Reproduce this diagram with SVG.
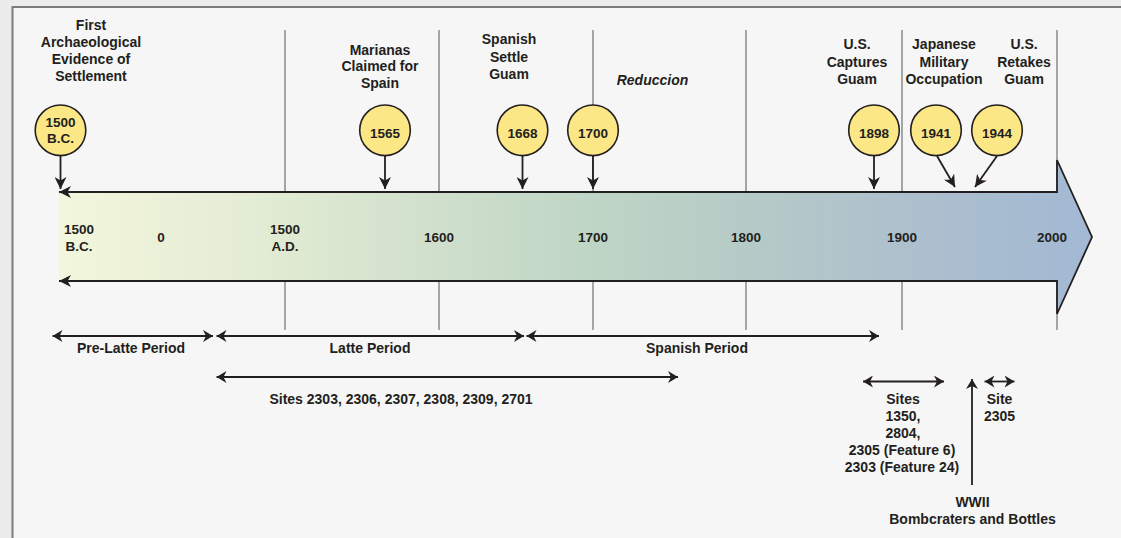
<svg xmlns="http://www.w3.org/2000/svg" width="1121" height="538" viewBox="0 0 1121 538">
<defs>
<style>
.t{font-family:"Liberation Sans",Arial,Helvetica,sans-serif;font-weight:bold;font-size:14px;fill:#231f20;text-anchor:middle}
.n{font-size:13.5px}
.it{font-style:italic}
.grid{stroke:#8a8a8a;stroke-width:1.5;fill:none}
.ln{stroke:#231f20;stroke-width:1.8;fill:none}
.yr{fill:#fbe785;stroke:#231f20;stroke-width:1.6}
</style>
<linearGradient id="g" gradientUnits="userSpaceOnUse" x1="59" y1="0" x2="1092" y2="0">
<stop offset="0" stop-color="#f2f6dd"/>
<stop offset="0.1" stop-color="#ebf1d8"/>
<stop offset="0.22" stop-color="#e0ead2"/>
<stop offset="0.37" stop-color="#cfdfcc"/>
<stop offset="0.52" stop-color="#bed5c5"/>
<stop offset="0.66" stop-color="#b6cbc7"/>
<stop offset="0.82" stop-color="#adc0cd"/>
<stop offset="1" stop-color="#a3b8d3"/>
</linearGradient>
<marker id="ah" viewBox="0 0 12 12" refX="12" refY="6" markerWidth="12" markerHeight="12" markerUnits="userSpaceOnUse" orient="auto-start-reverse">
<path d="M0,0 L12,6 L0,12 L3.5,6 z" fill="#231f20"/>
</marker>
<marker id="ah2" viewBox="0 0 10 12" refX="10" refY="6" markerWidth="10" markerHeight="12" markerUnits="userSpaceOnUse" orient="auto-start-reverse">
<path d="M0,0 L10,6 L0,12 L3,6 z" fill="#231f20"/>
</marker>
</defs>

<rect x="0" y="0" width="1121" height="538" fill="#ececec"/>
<rect x="12.5" y="7" width="1200" height="600" fill="#f6f6f6" stroke="#7c7c7c" stroke-width="2"/>

<g id="grid">
<line class="grid" x1="285" y1="30" x2="285" y2="330"/>
<line class="grid" x1="439" y1="30" x2="439" y2="330"/>
<line class="grid" x1="593" y1="30" x2="593" y2="330"/>
<line class="grid" x1="746" y1="30" x2="746" y2="330"/>
<line class="grid" x1="902" y1="30" x2="902" y2="330"/>
<line class="grid" x1="1057" y1="30" x2="1057" y2="330"/>
</g>

<g id="timeline-arrow">
<path d="M59,192 L1057,192 L1057,160 L1092,237 L1057,314 L1057,281 L59,281 Z" fill="url(#g)"/>
<polyline class="ln" points="59,192 1057,192 1057,160 1092,237 1057,314 1057,281 59,281" stroke-width="2" stroke-linejoin="miter" marker-start="url(#ah)" marker-end="url(#ah)"/>
<text class="t n" x="79" y="234">1500</text>
<text class="t n" x="79" y="251">B.C.</text>
<text class="t n" x="161" y="242">0</text>
<text class="t n" x="285" y="234">1500</text>
<text class="t n" x="285" y="251">A.D.</text>
<text class="t n" x="439" y="242">1600</text>
<text class="t n" x="593" y="242">1700</text>
<text class="t n" x="746" y="242">1800</text>
<text class="t n" x="902" y="242">1900</text>
<text class="t n" x="1052" y="242">2000</text>
</g>

<g id="connectors">
<line class="ln" x1="60.5" y1="156" x2="60.5" y2="189" marker-end="url(#ah)"/>
<line class="ln" x1="385" y1="156" x2="385" y2="189" marker-end="url(#ah)"/>
<line class="ln" x1="522.5" y1="156" x2="522.5" y2="189" marker-end="url(#ah)"/>
<line class="ln" x1="593" y1="156" x2="593" y2="189" marker-end="url(#ah)"/>
<line class="ln" x1="874" y1="156" x2="874" y2="189" marker-end="url(#ah)"/>
<line class="ln" x1="937" y1="156" x2="955" y2="187" marker-end="url(#ah)"/>
<line class="ln" x1="997" y1="156" x2="975" y2="187" marker-end="url(#ah)"/>
<line class="ln" x1="52.5" y1="336" x2="213" y2="336" marker-start="url(#ah2)" marker-end="url(#ah2)"/>
<line class="ln" x1="216.5" y1="336" x2="524" y2="336" marker-start="url(#ah2)" marker-end="url(#ah2)"/>
<line class="ln" x1="526.5" y1="336" x2="879" y2="336" marker-start="url(#ah2)" marker-end="url(#ah2)"/>
<line class="ln" x1="216.5" y1="377" x2="678" y2="377" marker-start="url(#ah2)" marker-end="url(#ah2)"/>
<line class="ln" x1="863" y1="381.5" x2="944" y2="381.5" marker-start="url(#ah2)" marker-end="url(#ah2)"/>
<line class="ln" x1="984.5" y1="381.5" x2="1014.5" y2="381.5" marker-start="url(#ah2)" marker-end="url(#ah2)"/>
<line class="ln" x1="972" y1="485" x2="972" y2="379" marker-end="url(#ah2)"/>
</g>

<g id="ev-1500bc">
<text class="t" x="91" y="29.5">First</text>
<text class="t" x="91" y="46.5">Archaeological</text>
<text class="t" x="91" y="63.5">Evidence of</text>
<text class="t" x="91" y="80.5">Settlement</text>
<circle class="yr" cx="60.5" cy="130.3" r="25.3"/>
<text class="t n" x="60.5" y="126.5">1500</text>
<text class="t n" x="60.5" y="143.3">B.C.</text>
</g>

<g id="ev-1565">
<text class="t" x="380" y="54.5">Marianas</text>
<text class="t" x="380" y="71.3">Claimed for</text>
<text class="t" x="380" y="88">Spain</text>
<circle class="yr" cx="385" cy="130.3" r="25.3"/>
<text class="t n" x="385" y="137.5">1565</text>
</g>

<g id="ev-1668">
<text class="t" x="509" y="44">Spanish</text>
<text class="t" x="509" y="61.5">Settle</text>
<text class="t" x="509" y="79">Guam</text>
<circle class="yr" cx="522.5" cy="130.3" r="25.3"/>
<text class="t n" x="522.5" y="137.5">1668</text>
</g>

<g id="ev-1700">
<text class="t it" x="652.5" y="85">Reduccion</text>
<circle class="yr" cx="593" cy="130.3" r="25.3"/>
<text class="t n" x="593" y="137.5">1700</text>
</g>

<g id="ev-1898">
<text class="t" x="857" y="49">U.S.</text>
<text class="t" x="857" y="66.5">Captures</text>
<text class="t" x="857" y="84">Guam</text>
<circle class="yr" cx="874" cy="130.3" r="25.3"/>
<text class="t n" x="874" y="137.5">1898</text>
</g>

<g id="ev-1941">
<text class="t" x="944" y="49">Japanese</text>
<text class="t" x="944" y="66.5">Military</text>
<text class="t" x="944" y="84">Occupation</text>
<circle class="yr" cx="936" cy="130.3" r="25.3"/>
<text class="t n" x="936" y="137.5">1941</text>
</g>

<g id="ev-1944">
<text class="t" x="1024" y="49">U.S.</text>
<text class="t" x="1024" y="66.5">Retakes</text>
<text class="t" x="1024" y="84">Guam</text>
<circle class="yr" cx="997" cy="130.3" r="25.3"/>
<text class="t n" x="997" y="137.5">1944</text>
</g>

<g id="periods">
<text class="t" x="131" y="353">Pre-Latte Period</text>
<text class="t" x="370" y="353">Latte Period</text>
<text class="t" x="697" y="353">Spanish Period</text>
</g>

<g id="sites">
<text class="t" x="401" y="404">Sites 2303, 2306, 2307, 2308, 2309, 2701</text>
<text class="t" x="903" y="404">Sites</text>
<text class="t" x="903" y="421">1350,</text>
<text class="t" x="903" y="438">2804,</text>
<text class="t" x="902" y="455">2305 (Feature 6)</text>
<text class="t" x="902" y="472">2303 (Feature 24)</text>
<text class="t" x="999.5" y="404">Site</text>
<text class="t" x="999.5" y="421">2305</text>
<text class="t" x="972.5" y="506.5">WWII</text>
<text class="t" x="972.5" y="524">Bombcraters and Bottles</text>
</g>
</svg>
